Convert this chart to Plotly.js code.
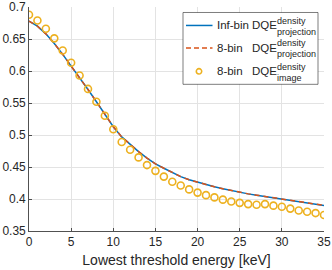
<!DOCTYPE html>
<html>
<head>
<meta charset="utf-8">
<script src="https://cdn.plot.ly/plotly-3.0.1.min.js"></script>
<style>html,body{margin:0;padding:0;background:#fff;}#chart{width:332px;height:270px;}</style>
</head>
<body>
<div id="chart"></div>
<script>
// ---- data ----
const energy = [0,1,2,3,4,5,6,7,8,9,10,11,12,13,14,15,16,17,18,19,20,21,22,23,24,25,26,27,28,29,30,31,32,33,34,35];
const infBinProjection = [0.678,0.670,0.658,0.643,0.626,0.608,0.590,0.571,0.552,0.532,0.513,0.497,0.485,0.474,0.464,0.455,0.448,0.441,0.435,0.430,0.426,0.422,0.419,0.416,0.413,0.410,0.408,0.406,0.404,0.402,0.400,0.398,0.396,0.394,0.392,0.390];
const eightBinProjection = [0.678,0.670,0.658,0.643,0.626,0.608,0.590,0.571,0.552,0.532,0.513,0.497,0.485,0.474,0.464,0.455,0.448,0.441,0.435,0.430,0.426,0.422,0.419,0.416,0.413,0.410,0.408,0.406,0.404,0.402,0.400,0.398,0.396,0.394,0.392,0.390];
const eightBinImage = [0.688,0.679,0.666,0.651,0.632,0.613,0.593,0.572,0.552,0.530,0.509,0.489,0.477,0.465,0.453,0.444,0.435,0.427,0.421,0.415,0.410,0.406,0.4025,0.399,0.396,0.394,0.392,0.391,0.392,0.3896,0.388,0.385,0.382,0.380,0.378,0.375];
const seriesNames = ["Inf-bin", "8-bin", "8-bin"];
const seriesSup = ["density", "density", "density"];
const seriesSub = ["projection", "projection", "image"];
const xTitle = "Lowest threshold energy [keV]";

const BLUE = "#0072BD", RED = "#D95319", YEL = "#EDB120", TXT = "#262626";
const FONT = "Liberation Sans, Arial, Helvetica, sans-serif";

const traces = [
  {x: energy, y: infBinProjection, type: "scatter", mode: "lines", line: {color: BLUE, width: 1.5}, name: seriesNames[0], showlegend: false},
  {x: energy, y: eightBinProjection, type: "scatter", mode: "lines", line: {color: RED, width: 1.5, dash: "5px,4px"}, name: seriesNames[1], showlegend: false},
  {x: energy, y: eightBinImage, type: "scatter", mode: "markers", marker: {symbol: "circle-open", size: 7, color: YEL, line: {color: YEL, width: 1.6}}, name: seriesNames[2], showlegend: false}
];

// plot-area geometry (pixels)
const L = 29, R = 8, T = 6.5, B = 39, W = 332 - L - R, H = 270 - T - B;
const px = x => (x - L) / W;
const py = y => (T + H - y) / H;

const rowsY = [25, 47.7, 71];
const supY = [20.5, 43, 66.3];
const subY = [32, 53.8, 77.5];

const shapes = [
  {type: "rect", xref: "paper", yref: "paper", x0: px(183), x1: px(318), y0: py(84), y1: py(12), line: {color: TXT, width: 0.6}, fillcolor: "#ffffff", layer: "above"},
  {type: "line", xref: "paper", yref: "paper", x0: px(186), x1: px(212.5), y0: py(rowsY[0]), y1: py(rowsY[0]), line: {color: BLUE, width: 1.5}, layer: "above"},
  {type: "line", xref: "paper", yref: "paper", x0: px(186), x1: px(212.5), y0: py(rowsY[1]), y1: py(rowsY[1]), line: {color: RED, width: 1.5, dash: "5px,3px"}, layer: "above"},
  {type: "circle", xref: "paper", yref: "paper", x0: px(196.3), x1: px(201.7), y0: py(rowsY[2] + 2.7), y1: py(rowsY[2] - 2.7), line: {color: YEL, width: 1.6}, layer: "above"}
];

const annotations = [];
for (let i = 0; i < 3; i++) {
  annotations.push({xref: "paper", yref: "paper", x: px(215), y: py(rowsY[i]), xanchor: "left", yanchor: "middle", text: seriesNames[i], showarrow: false, font: {family: FONT, size: 11.5, color: TXT}});
  annotations.push({xref: "paper", yref: "paper", x: px(250), y: py(rowsY[i]), xanchor: "left", yanchor: "middle", text: "DQE", showarrow: false, font: {family: FONT, size: 11.5, color: TXT}});
  annotations.push({xref: "paper", yref: "paper", x: px(274.5), y: py(supY[i]), xanchor: "left", yanchor: "middle", text: seriesSup[i], showarrow: false, font: {family: FONT, size: 9, color: TXT}});
  annotations.push({xref: "paper", yref: "paper", x: px(274.5), y: py(subY[i]), xanchor: "left", yanchor: "middle", text: seriesSub[i], showarrow: false, font: {family: FONT, size: 9, color: TXT}});
}

const layout = {
  width: 332, height: 270,
  margin: {l: L, r: R, t: T, b: B, pad: 0},
  paper_bgcolor: "#ffffff", plot_bgcolor: "#ffffff",
  font: {family: FONT, size: 12, color: TXT},
  showlegend: false,
  xaxis: {
    range: [0, 35], dtick: 5, tick0: 0,
    showgrid: true, gridcolor: "#e3e3e3", gridwidth: 1,
    zeroline: false, showline: true, linecolor: TXT, linewidth: 0.8,
    ticks: "inside", ticklen: 3, tickcolor: TXT, tickwidth: 0.8,
    tickfont: {family: FONT, size: 12, color: TXT},
    ticklabeloverflow: "allow",
    title: {text: xTitle, font: {family: FONT, size: 14, color: TXT}, standoff: 6},
    automargin: false
  },
  yaxis: {
    range: [0.35, 0.7], dtick: 0.05, tick0: 0.35,
    showgrid: true, gridcolor: "#e3e3e3", gridwidth: 1,
    zeroline: false, showline: true, linecolor: TXT, linewidth: 0.8,
    ticks: "inside", ticklen: 3, tickcolor: TXT, tickwidth: 0.8,
    tickfont: {family: FONT, size: 12, color: TXT},
    ticklabeloverflow: "allow",
    automargin: false
  },
  shapes: shapes,
  annotations: annotations
};

Plotly.newPlot("chart", traces, layout, {displayModeBar: false, staticPlot: true});
</script>
</body>
</html>
